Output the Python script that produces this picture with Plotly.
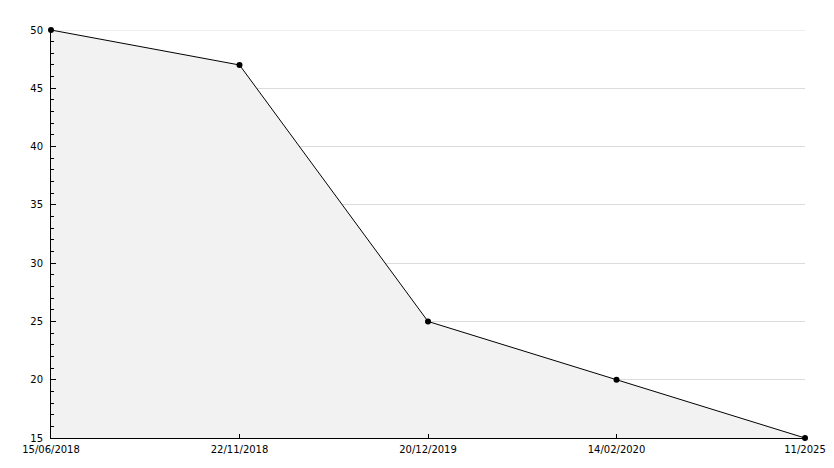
import plotly.graph_objects as go

dates = ["15/06/2018", "22/11/2018", "20/12/2019", "14/02/2020", "11/2025"]
values = [50, 47, 25, 20, 15]
y_ticks = [15, 20, 25, 30, 35, 40, 45, 50]

fig = go.Figure()
fig.add_trace(go.Scatter(
    x=dates, y=values, mode="lines+markers",
    line=dict(color="black", width=1),
    marker=dict(color="black", size=6, symbol="circle"),
    fill="tozeroy", fillcolor="#f2f2f2",
    hoverinfo="x+y",
    cliponaxis=False,
))

# top gridline (at the upper range edge, not drawn by default)
fig.add_hline(y=y_ticks[-1], line=dict(color="#dcdcdc", width=1), layer="below")

fig.update_layout(
    width=834, height=468,
    margin=dict(l=43, r=37, t=22, b=38, autoexpand=False),
    paper_bgcolor="white", plot_bgcolor="white",
    showlegend=False,
    font=dict(family="DejaVu Sans", size=10, color="black"),
)
fig.update_xaxes(
    type="category", range=[0, 4],
    showgrid=False, showline=True, linecolor="black", linewidth=1,
    ticks="inside", ticklen=4, tickcolor="black",
    ticklabelstandoff=2,
    zeroline=False, automargin=False,
)
fig.update_yaxes(
    range=[15, 50], tickvals=y_ticks,
    showgrid=True, gridcolor="#dcdcdc", gridwidth=1,
    showline=True, linecolor="black", linewidth=1,
    ticks="inside", ticklen=5, tickcolor="black",
    ticklabelstandoff=5,
    minor=dict(dtick=1, ticks="inside", ticklen=3, tickcolor="black", showgrid=False),
    zeroline=False, automargin=False,
)

fig.write_html("out.html")
